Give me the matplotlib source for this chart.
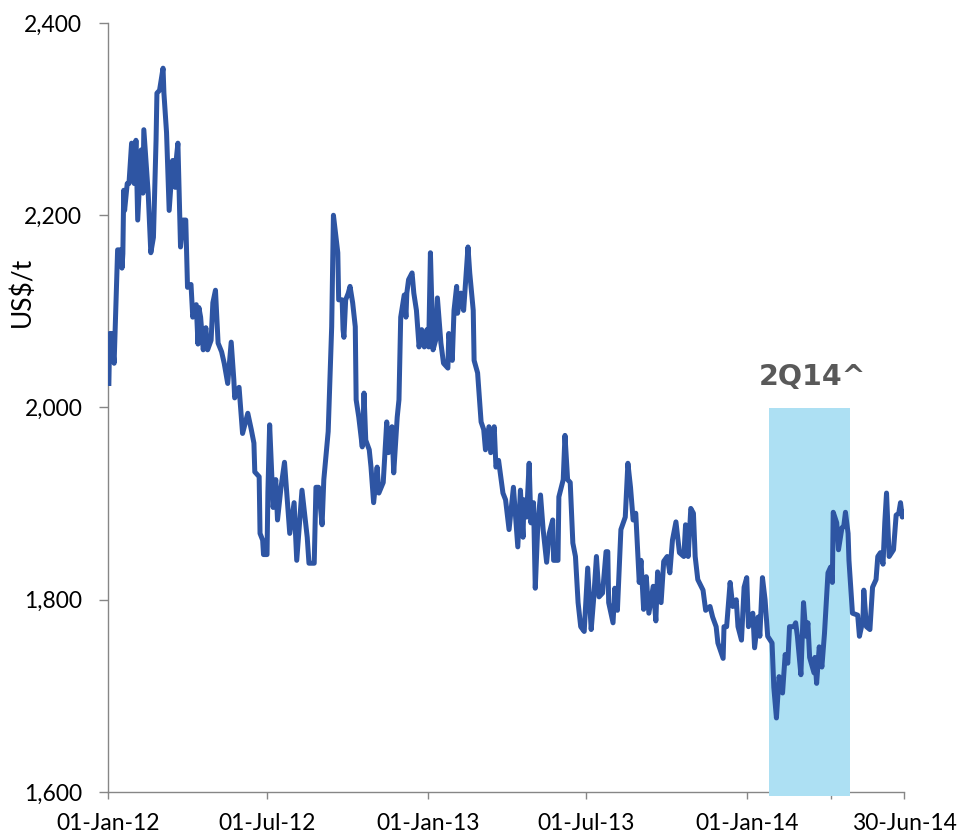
import matplotlib
matplotlib.use("Agg")
import matplotlib.pyplot as plt
import pandas as pd

# daily price
dates = [
    "2012-01-02", "2012-01-03", "2012-01-05", "2012-01-08", "2012-01-12", "2012-01-16", "2012-01-17", "2012-01-18",
    "2012-01-19", "2012-01-20", "2012-01-23", "2012-01-25", "2012-01-28", "2012-01-31", "2012-02-02", "2012-02-04",
    "2012-02-08", "2012-02-10", "2012-02-11", "2012-02-16", "2012-02-19", "2012-02-22", "2012-02-25", "2012-02-26",
    "2012-02-29", "2012-03-04", "2012-03-05", "2012-03-08", "2012-03-11", "2012-03-15", "2012-03-18", "2012-03-19",
    "2012-03-21", "2012-03-24", "2012-03-27", "2012-03-30", "2012-04-01", "2012-04-05", "2012-04-07", "2012-04-11",
    "2012-04-13", "2012-04-14", "2012-04-16", "2012-04-19", "2012-04-22", "2012-04-24", "2012-04-28", "2012-04-30",
    "2012-05-03", "2012-05-06", "2012-05-10", "2012-05-13", "2012-05-17", "2012-05-21", "2012-05-24", "2012-05-25",
    "2012-05-30", "2012-06-03", "2012-06-09", "2012-06-13", "2012-06-16", "2012-06-17", "2012-06-22", "2012-06-23",
    "2012-06-26", "2012-06-27", "2012-07-01", "2012-07-02", "2012-07-04", "2012-07-08", "2012-07-11", "2012-07-13",
    "2012-07-17", "2012-07-21", "2012-07-25", "2012-07-27", "2012-08-01", "2012-08-04", "2012-08-10", "2012-08-16",
    "2012-08-18", "2012-08-24", "2012-08-26", "2012-08-29", "2012-09-02", "2012-09-04", "2012-09-09", "2012-09-11",
    "2012-09-13", "2012-09-15", "2012-09-20", "2012-09-21", "2012-09-25", "2012-09-26", "2012-09-27", "2012-09-29",
    "2012-10-02", "2012-10-04", "2012-10-07", "2012-10-10", "2012-10-11", "2012-10-14", "2012-10-18", "2012-10-20",
    "2012-10-22", "2012-10-26", "2012-10-28", "2012-10-31", "2012-11-04", "2012-11-06", "2012-11-11", "2012-11-15",
    "2012-11-17", "2012-11-21", "2012-11-23", "2012-11-27", "2012-11-29", "2012-12-01", "2012-12-05", "2012-12-07",
    "2012-12-08", "2012-12-10", "2012-12-14", "2012-12-16", "2012-12-19", "2012-12-22", "2012-12-25", "2012-12-28",
    "2012-12-31", "2013-01-02", "2013-01-04", "2013-01-07", "2013-01-10", "2013-01-12", "2013-01-16", "2013-01-19",
    "2013-01-24", "2013-01-25", "2013-01-29", "2013-01-31", "2013-02-03", "2013-02-04", "2013-02-08", "2013-02-11",
    "2013-02-16", "2013-02-18", "2013-02-22", "2013-02-23", "2013-02-27", "2013-03-03", "2013-03-06", "2013-03-08",
    "2013-03-12", "2013-03-14", "2013-03-18", "2013-03-20", "2013-03-23", "2013-03-28", "2013-03-31", "2013-04-04",
    "2013-04-09", "2013-04-14", "2013-04-17", "2013-04-20", "2013-04-21", "2013-04-24", "2013-04-27", "2013-04-29",
    "2013-05-02", "2013-05-04", "2013-05-07", "2013-05-10", "2013-05-13", "2013-05-17", "2013-05-20", "2013-05-24",
    "2013-05-25", "2013-05-30", "2013-05-31", "2013-06-05", "2013-06-07", "2013-06-10", "2013-06-13", "2013-06-16",
    "2013-06-19", "2013-06-22", "2013-06-25", "2013-06-29", "2013-07-03", "2013-07-07", "2013-07-10", "2013-07-13",
    "2013-07-16", "2013-07-20", "2013-07-24", "2013-07-26", "2013-07-27", "2013-08-01", "2013-08-03", "2013-08-06",
    "2013-08-10", "2013-08-15", "2013-08-18", "2013-08-21", "2013-08-24", "2013-08-27", "2013-08-31", "2013-09-02",
    "2013-09-05", "2013-09-08", "2013-09-11", "2013-09-16", "2013-09-19", "2013-09-21", "2013-09-25", "2013-09-28",
    "2013-10-02", "2013-10-05", "2013-10-08", "2013-10-12", "2013-10-16", "2013-10-21", "2013-10-23", "2013-10-26",
    "2013-10-29", "2013-11-01", "2013-11-03", "2013-11-06", "2013-11-12", "2013-11-15", "2013-11-20", "2013-11-23",
    "2013-11-27", "2013-11-29", "2013-12-05", "2013-12-06", "2013-12-09", "2013-12-13", "2013-12-16", "2013-12-20",
    "2013-12-22", "2013-12-26", "2013-12-29", "2014-01-01", "2014-01-03", "2014-01-08", "2014-01-10", "2014-01-14",
    "2014-01-16", "2014-01-19", "2014-01-22", "2014-01-25", "2014-01-30", "2014-02-01", "2014-02-04", "2014-02-07",
    "2014-02-11", "2014-02-14", "2014-02-17", "2014-02-19", "2014-02-24", "2014-02-26", "2014-02-28", "2014-03-04",
    "2014-03-07", "2014-03-10", "2014-03-12", "2014-03-14", "2014-03-19", "2014-03-20", "2014-03-22", "2014-03-25",
    "2014-03-28", "2014-03-31", "2014-04-04", "2014-04-07", "2014-04-09", "2014-04-10", "2014-04-14", "2014-04-16",
    "2014-04-20", "2014-04-22", "2014-04-24", "2014-04-27", "2014-04-28", "2014-05-02", "2014-05-08", "2014-05-10",
    "2014-05-14", "2014-05-15", "2014-05-18", "2014-05-22", "2014-05-25", "2014-05-29", "2014-05-31", "2014-06-03",
    "2014-06-06", "2014-06-08", "2014-06-10", "2014-06-13", "2014-06-18", "2014-06-21", "2014-06-24", "2014-06-26",
    "2014-06-28", "2014-06-30",
]
prices = [
    2025, 2077, 2077, 2046, 2164, 2164, 2145, 2160,
    2226, 2205, 2233, 2233, 2275, 2233, 2278, 2195,
    2268, 2223, 2289, 2223, 2161, 2177, 2278, 2327,
    2330, 2353, 2327, 2286, 2205, 2257, 2229, 2257,
    2275, 2167, 2195, 2195, 2125, 2128, 2094, 2107,
    2066, 2104, 2094, 2060, 2083, 2060, 2070, 2109,
    2122, 2067, 2058, 2046, 2025, 2068, 2029, 2010,
    2021, 1973, 1994, 1977, 1963, 1933, 1928, 1869,
    1862, 1847, 1847, 1912, 1982, 1896, 1925, 1883,
    1917, 1943, 1893, 1869, 1901, 1841, 1914, 1865,
    1838, 1838, 1917, 1917, 1878, 1925, 1975, 2029,
    2084, 2200, 2161, 2112, 2112, 2081, 2073, 2112,
    2119, 2126, 2109, 2084, 2008, 1990, 1959, 2015,
    1966, 1956, 1938, 1901, 1938, 1911, 1922, 1985,
    1953, 1980, 1932, 1990, 2008, 2094, 2117, 2094,
    2119, 2133, 2140, 2119, 2101, 2063, 2081, 2063,
    2081, 2063, 2161, 2060, 2070, 2114, 2067, 2046,
    2041, 2077, 2049, 2101, 2126, 2098, 2119, 2101,
    2167, 2140, 2101, 2049, 2036, 1985, 1977, 1956,
    1980, 1953, 1980, 1938, 1945, 1911, 1904, 1873,
    1917, 1855, 1914, 1865, 1904, 1886, 1942, 1880,
    1901, 1812, 1880, 1909, 1873, 1839, 1869, 1883,
    1841, 1841, 1907, 1925, 1971, 1925, 1922, 1859,
    1845, 1797, 1772, 1767, 1833, 1769, 1803, 1845,
    1803, 1807, 1850, 1850, 1797, 1776, 1812, 1789,
    1873, 1886, 1942, 1917, 1883, 1890, 1818, 1841,
    1790, 1824, 1786, 1814, 1778, 1829, 1797, 1840,
    1845, 1828, 1862, 1881, 1849, 1845, 1878, 1845,
    1895, 1890, 1845, 1821, 1810, 1789, 1793, 1782,
    1772, 1755, 1739, 1772, 1772, 1818, 1793, 1800,
    1772, 1758, 1813, 1823, 1772, 1786, 1750, 1782,
    1762, 1823, 1800, 1762, 1755, 1709, 1677, 1720,
    1703, 1743, 1734, 1772, 1772, 1776, 1762, 1722,
    1797, 1762, 1776, 1740, 1724, 1740, 1713, 1751,
    1730, 1765, 1828, 1834, 1818, 1891, 1880, 1852,
    1875, 1876, 1891, 1869, 1841, 1786, 1784, 1762,
    1779, 1810, 1772, 1769, 1813, 1821, 1845, 1849,
    1837, 1880, 1911, 1845, 1852, 1888, 1890, 1901,
    1886, 1891,
]

tick_dates = ["2012-01-01", "2012-07-01", "2013-01-01", "2013-07-01", "2014-01-01", "2014-04-08", "2014-06-30"]
tick_labels = ["01-Jan-12", "01-Jul-12", "01-Jan-13", "01-Jul-13", "01-Jan-14", "", "30-Jun-14"]
y_ticks = [1600, 1800, 2000, 2200, 2400]

shade_span = ["2014-01-27", "2014-04-29"]
shade_top = 2000
shade_label = "2Q14^"

plt.rcParams["font.family"] = ["Lato", "DejaVu Sans"]

x = pd.to_datetime(dates)
fig = plt.figure(figsize=(9.59, 8.38), dpi=100)
ax = fig.add_axes([108 / 959, 1 - 792 / 838, (904 - 108) / 959, 769 / 838])

ax.fill_between(pd.to_datetime(shade_span), 1596, shade_top, color="#ADE0F3",
                lw=0, zorder=3, clip_on=False)
ax.plot(x, prices, color="#2E55A3", lw=3.6, solid_joinstyle="round", zorder=4)
ax.text(pd.Timestamp("2014-03-17"), 2032, shade_label, ha="center", va="center",
        fontsize=20.5, fontweight="bold", color="#595959", family="DejaVu Sans")

ax.set_xlim(pd.Timestamp("2012-01-01"), pd.Timestamp("2014-06-30"))
ax.set_ylim(1600, 2400)
ax.set_xticks(pd.to_datetime(tick_dates))
ax.set_xticklabels(tick_labels)
ax.set_yticks(y_ticks)
ax.set_yticklabels([f"{v:,}" for v in y_ticks])

for s in ["top", "right"]:
    ax.spines[s].set_visible(False)
for s in ["left", "bottom"]:
    ax.spines[s].set_color("#868686")
    ax.spines[s].set_linewidth(1.0)
ax.tick_params(axis="y", length=6.5, width=1.0, color="#868686", pad=12, labelsize=16.5)
ax.tick_params(axis="x", length=5, width=1.0, color="#868686", pad=10, labelsize=16.5)

fig.text(22 / 959, 1 - 292 / 838, "US$/t", rotation=90, ha="center", va="center", fontsize=19)

fig.savefig("out.png", dpi=100)
